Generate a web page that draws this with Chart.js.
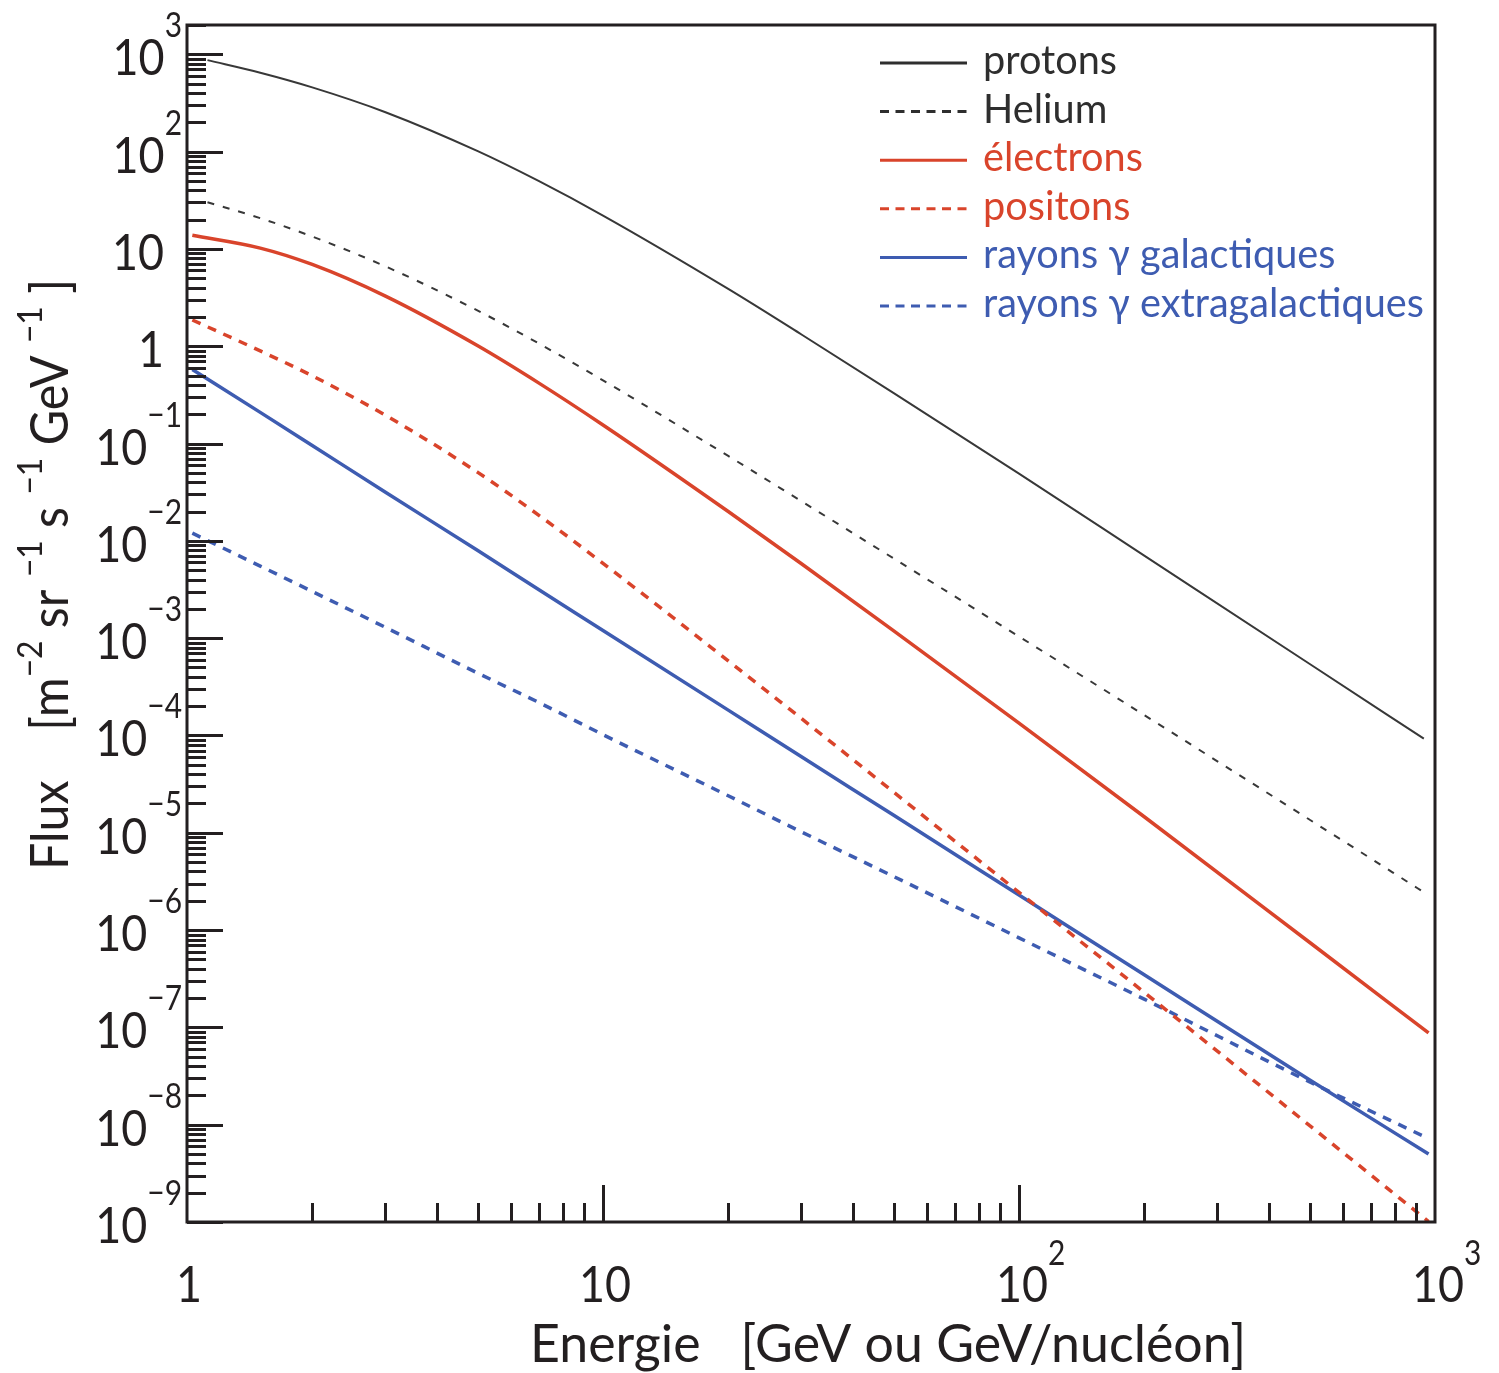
<!DOCTYPE html>
<html>
<head>
<meta charset="utf-8">
<title>Flux des rayons cosmiques</title>
<script src="https://cdn.jsdelivr.net/npm/chart.js@4.4.0/dist/chart.umd.min.js"></script>
<style>
    html, body { margin: 0; background: #fff; }
    canvas { display: block; }
</style>
</head>
<body>
<canvas id="fluxChart" width="1499" height="1373"></canvas>
<script>
// Energy grids (GeV or GeV/nucleon)
const energyNuclei = [1.12, 1.5, 2, 3, 5, 7, 10, 20, 30, 50, 100, 200, 500, 940];
const energyOthers = [1.03, 1.5, 2, 3, 5, 7, 10, 20, 30, 50, 100, 200, 500, 965];

// Flux values [m^-2 sr^-1 s^-1 GeV^-1]
const fluxProtons   = [871, 646, 457, 254, 101, 49.9, 22.0, 3.88, 1.32, 0.330, 0.0491, 7.05e-3, 5.42e-4, 9.27e-5];
const fluxHelium    = [30.2, 20.7, 13.4, 6.61, 2.32, 1.07, 0.446, 0.0745, 0.0255, 6.58e-3, 1.04e-3, 1.62e-4, 1.36e-5, 2.45e-6];
const fluxElectrons = [13.8, 10.2, 6.92, 3.27, 1.01, 0.420, 0.155, 0.0200, 5.81e-3, 1.19e-3, 1.34e-4, 1.46e-5, 7.45e-7, 8.77e-8];
const fluxPositrons = [1.86, 0.895, 0.497, 0.195, 0.0505, 0.0184, 5.87e-3, 5.85e-4, 1.49e-4, 2.61e-5, 2.44e-6, 2.29e-7, 9.77e-9, 1.01e-9];
const fluxGammaGal  = [0.575, 0.209, 0.0955, 0.0316, 7.94e-3, 3.16e-3, 1.20e-3, 1.82e-4, 6.03e-5, 1.51e-5, 2.29e-6, 3.47e-7, 2.88e-8, 5.0e-9];
const fluxGammaExtra = [0.0120, 5.50e-3, 3.02e-3, 1.29e-3, 4.37e-4, 2.19e-4, 1.02e-4, 2.40e-5, 1.02e-5, 3.55e-6, 8.32e-7, 1.95e-7, 2.75e-8, 7.2e-9];

const seriesLabels = ['protons', 'Helium', 'électrons', 'positons', 'rayons γ galactiques', 'rayons γ extragalactiques'];

// Axis decades (exponents) that get a label
const xDecades = [0, 1, 2, 3];
const yDecades = [-9, -8, -7, -6, -5, -4, -3, -2, -1, 0, 1, 2, 3];

const xTitle = 'Energie   [GeV ou GeV/nucléon]';

const ink = '#231f20';
const grey = '#383838';
const red = '#d9442b';
const blue = '#3e5cb1';
const FONT = 'Lato, "Open Sans", sans-serif';
const SX = 0.88; // horizontal squeeze for a narrow humanist look

function toPoints(xs, ys) {
    return xs.map((x, i) => ({ x, y: ys[i] }));
}

function lineDataset(label, xs, ys, color, width, dash) {
    return {
        label, data: toPoints(xs, ys), borderColor: color, borderWidth: width,
        borderDash: dash, pointRadius: 0, fill: false, cubicInterpolationMode: 'monotone'
    };
}

// Text helpers (canvas)
function widthOf(ctx, s, font, sx) {
    ctx.font = font;
    return ctx.measureText(s).width * sx;
}

function put(ctx, s, x, y, font, sx) {
    ctx.save();
    ctx.font = font;
    ctx.textAlign = 'left';
    ctx.textBaseline = 'alphabetic';
    ctx.translate(x, y);
    ctx.scale(sx, 1);
    ctx.fillText(s, 0, 0);
    ctx.restore();
}

function expText(e) {
    return String(e).replace('-', '\u2212');
}

const mainFont = `51px ${FONT}`;
const supFont = `34px ${FONT}`;

const decorations = {
    id: 'decorations',
    afterDatasetsDraw(chart) {
        const { ctx, chartArea: a, scales: { x, y } } = chart;
        ctx.save();
        ctx.strokeStyle = ink;
        ctx.fillStyle = ink;
        ctx.lineWidth = 3;
        ctx.lineCap = 'butt';

        // frame
        ctx.strokeRect(a.left, a.top, a.right - a.left, a.bottom - a.top);

        // y ticks (inside, left)
        ctx.beginPath();
        for (let d = -9; d <= 3; d++) {
            for (let m = 1; m <= 9; m++) {
                const v = m * Math.pow(10, d);
                if (v < y.min * 0.999 || v > y.max) continue;
                const py = Math.round(y.getPixelForValue(v)) + 0.5;
                const len = m === 1 ? 36 : 19;
                ctx.moveTo(a.left, py);
                ctx.lineTo(a.left + len, py);
            }
        }
        // x ticks (inside, bottom)
        for (let d = 0; d <= 2; d++) {
            for (let m = 1; m <= 9; m++) {
                const v = m * Math.pow(10, d);
                if (v <= x.min || v >= x.max) continue;
                const px = Math.round(x.getPixelForValue(v)) + 0.5;
                const len = m === 1 ? 37 : 19;
                ctx.moveTo(px, a.bottom);
                ctx.lineTo(px, a.bottom - len);
            }
        }
        ctx.stroke();

        // y tick labels
        yDecades.forEach(e => {
            const py = y.getPixelForValue(Math.pow(10, e));
            if (e === 0 || e === 1) {
                const s = e === 0 ? '1' : '10';
                put(ctx, s, 164 - widthOf(ctx, s, mainFont, SX), py + 21, mainFont, SX);
            } else {
                const es = expText(e);
                const wm = widthOf(ctx, '10', mainFont, SX);
                const we = widthOf(ctx, es, supFont, SX);
                const left = 182 - wm - we;
                put(ctx, '10', left, py + 21, mainFont, SX);
                put(ctx, es, left + wm, py - 17, supFont, SX);
            }
        });

        // x tick labels
        xDecades.forEach(e => {
            const px = x.getPixelForValue(Math.pow(10, e));
            if (e === 0 || e === 1) {
                const s = e === 0 ? '1' : '10';
                const w = widthOf(ctx, s, mainFont, SX);
                put(ctx, s, px + 2 - w / 2, 1302, mainFont, SX);
            } else {
                const wm = widthOf(ctx, '10', mainFont, SX);
                put(ctx, '10', px + 3 - wm / 2, 1302, mainFont, SX);
                put(ctx, expText(e), px + 3 + wm / 2, 1265, supFont, SX);
            }
        });

        // x title
        const titleFont = `52px ${FONT}`;
        const tw = widthOf(ctx, xTitle, titleFont, 1);
        put(ctx, xTitle, 530, 1362, titleFont, 716 / tw);

        // y title, rotated, built from pieces with superscripts
        const pieces = [
            ['Flux', false], ['    [m', false], ['\u22122', true], [' sr ', false], ['\u22121', true],
            [' s ', false], ['\u22121', true], [' GeV ', false], ['\u22121', true], [' ]', false]
        ];
        let total = 0;
        pieces.forEach(([s, sup]) => { total += widthOf(ctx, s, sup ? supFont : titleFont, 1); });
        const ysx = 591 / total;
        ctx.save();
        ctx.translate(68, 870);
        ctx.rotate(-Math.PI / 2);
        let cx = 0;
        pieces.forEach(([s, sup]) => {
            const f = sup ? supFont : titleFont;
            put(ctx, s, cx, sup ? -26 : 0, f, ysx);
            cx += widthOf(ctx, s, f, ysx);
        });
        ctx.restore();

        // legend
        const legendFont = `40px ${FONT}`;
        let longest = 0;
        chart.data.datasets.forEach(ds => { longest = Math.max(longest, widthOf(ctx, ds.label, legendFont, 1)); });
        const lsx = 441 / longest;
        chart.data.datasets.forEach((ds, i) => {
            const ly = 63 + i * 48.6;
            ctx.beginPath();
            ctx.lineWidth = 3;
            ctx.strokeStyle = ds.legendColor;
            ctx.setLineDash(ds.borderDash.length ? [9, 6.5] : []);
            ctx.moveTo(880, ly);
            ctx.lineTo(967, ly);
            ctx.stroke();
            ctx.setLineDash([]);
            ctx.fillStyle = ds.legendColor;
            put(ctx, ds.label, 983, ly + 11, legendFont, lsx);
        });

        ctx.restore();
    }
};

const datasets = [
    lineDataset(seriesLabels[0], energyNuclei, fluxProtons, grey, 2, []),
    lineDataset(seriesLabels[1], energyNuclei, fluxHelium, grey, 2, [7, 9]),
    lineDataset(seriesLabels[2], energyOthers, fluxElectrons, red, 3.5, []),
    lineDataset(seriesLabels[3], energyOthers, fluxPositrons, red, 3.5, [9, 8]),
    lineDataset(seriesLabels[4], energyOthers, fluxGammaGal, blue, 3.5, []),
    lineDataset(seriesLabels[5], energyOthers, fluxGammaExtra, blue, 3.5, [9, 8])
];
datasets.forEach((ds, i) => { ds.legendColor = i < 2 ? '#2e2e2e' : ds.borderColor; });

new Chart(document.getElementById('fluxChart'), {
    type: 'line',
    data: { datasets },
    options: {
        responsive: false,
        animation: false,
        events: [],
        layout: { padding: { left: 187, top: 25, right: 64, bottom: 151 } },
        plugins: { legend: { display: false }, tooltip: { enabled: false } },
        scales: {
            x: { type: 'logarithmic', min: 1, max: 1000, display: false },
            y: { type: 'logarithmic', min: 1e-9, max: 2000, display: false }
        }
    },
    plugins: [decorations]
});
</script>
</body>
</html>
